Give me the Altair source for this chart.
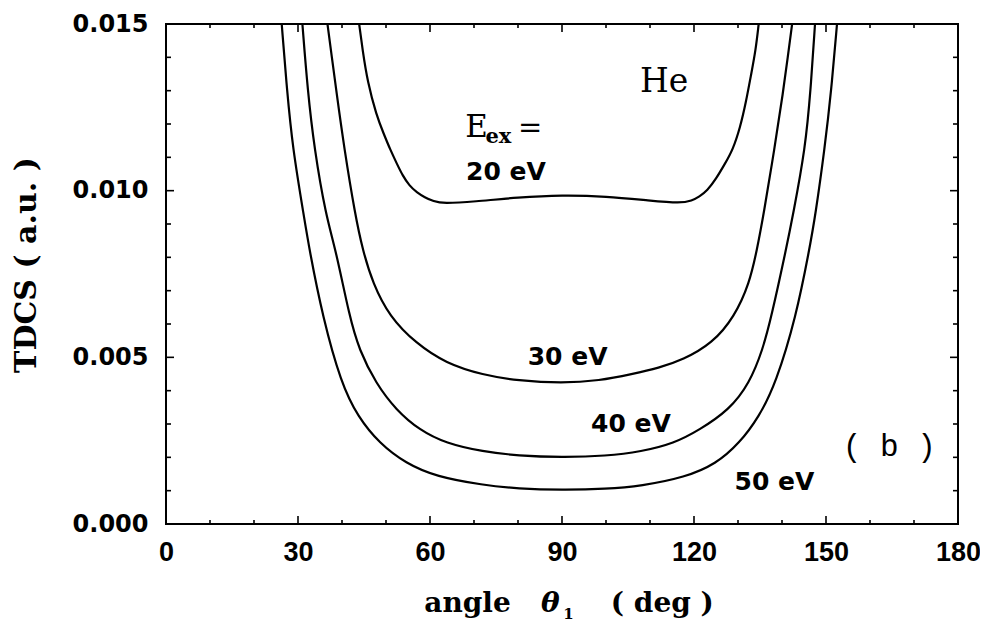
import altair as alt
import pandas as pd

# ---------------- data ----------------
theta_20 = [43.9, 44.7, 45.8, 47.8, 49.5, 51.0, 52.5, 53.8, 55.3, 57.0, 58.8, 60.8, 63.0,
            70, 80, 90, 100, 110, 117.0, 119.5, 121.2, 123.0, 125.0, 127.0, 128.8, 130.5,
            131.8, 133.0, 134.0, 134.7]
tdcs_20 = [0.0150, 0.0142, 0.01327, 0.01227, 0.0117, 0.01122, 0.0108, 0.01045, 0.01015, 0.00995,
           0.00980, 0.00968, 0.00961, 0.00967, 0.00980, 0.00987, 0.00983, 0.00970, 0.00962,
           0.00970, 0.00982, 0.0100, 0.01035, 0.0108, 0.01122, 0.0119, 0.01265, 0.0135, 0.0142, 0.0150]

theta_30 = [36.7, 37.7, 38.7, 40.5, 43.0, 44.7, 47.0, 50.8, 56.8, 63.6, 72.0, 80, 90,
            98.5, 106, 112, 117.4, 124.2, 129.2, 132.6, 134.3, 135.8, 138.3, 140.3, 141.3, 142.3]
tdcs_30 = [0.0150, 0.0140, 0.0130, 0.01127, 0.00927, 0.00822, 0.00722, 0.00622, 0.00542, 0.00482,
           0.00447, 0.00430, 0.00422, 0.00430, 0.00450, 0.00468, 0.00492, 0.00542, 0.00622,
           0.00722, 0.00822, 0.00927, 0.01127, 0.0130, 0.0140, 0.0150]

theta_40 = [31.0, 32.2, 33.7, 36.3, 38.6, 41.7, 43.9, 47.7, 52.3, 57.6, 63.6, 72.0, 80, 90,
            100, 108, 115.5, 121.2, 128.0, 132.6, 135.6, 137.6, 140.9, 142.5, 145.3, 146.5, 147.5]
tdcs_40 = [0.0150, 0.0130, 0.01127, 0.00927, 0.00822, 0.00622, 0.00522, 0.00422, 0.00342, 0.00282,
           0.00242, 0.00217, 0.00205, 0.00200, 0.00204, 0.00217, 0.00242, 0.00282, 0.00342,
           0.00422, 0.00522, 0.00622, 0.00822, 0.00927, 0.01127, 0.0130, 0.0150]

theta_50 = [26.3, 27.5, 28.8, 31.3, 32.6, 35.6, 39.8, 43.6, 48.5, 54.5, 61.4, 72.0, 80, 90,
            100, 108, 118, 125, 130.3, 134.8, 138.6, 143.2, 146.2, 147.6, 149.7, 151.2, 152.5]
tdcs_50 = [0.0150, 0.0130, 0.01127, 0.00927, 0.00822, 0.00622, 0.00422, 0.00322, 0.00242, 0.00182,
           0.00142, 0.00117, 0.00106, 0.00102, 0.00105, 0.00114, 0.00140, 0.00180, 0.00242,
           0.00322, 0.00422, 0.00622, 0.00822, 0.00927, 0.01127, 0.0130, 0.0150]

curve_names = ["20 eV", "30 eV", "40 eV", "50 eV"]

x_ticks_major = [0, 30, 60, 90, 120, 150, 180]
x_ticks_minor = [10, 20, 40, 50, 70, 80, 100, 110, 130, 140, 160, 170]
y_ticks_major = [0.0, 0.005, 0.010, 0.015]
y_ticks_minor = [0.001, 0.002, 0.003, 0.004, 0.006, 0.007, 0.008, 0.009,
                 0.011, 0.012, 0.013, 0.014]

# ---------------- layout ----------------
W, H = 792, 500
XMAX, YMAX = 180.0, 0.015
dx = XMAX / W   # data per pixel
dy = YMAX / H

rows = []
for name, xs_, ys_ in zip(curve_names, [theta_20, theta_30, theta_40, theta_50],
                          [tdcs_20, tdcs_30, tdcs_40, tdcs_50]):
    for i, (a, b) in enumerate(zip(xs_, ys_)):
        rows.append({"theta": a, "tdcs": b, "curve": name, "order": i})
df = pd.DataFrame(rows)

xs = alt.Scale(domain=[0, XMAX], nice=False, zero=False)
ys = alt.Scale(domain=[0, YMAX], nice=False, zero=False)

lines = alt.Chart(df).mark_line(color="black", strokeWidth=2.2, interpolate="basis").encode(
    x=alt.X("theta:Q", scale=xs,
            axis=alt.Axis(values=x_ticks_major, format="d", title=None, labelPadding=15,
                          labelFlush=False, labelFont="Liberation Sans", labelFontSize=27)),
    y=alt.Y("tdcs:Q", scale=ys,
            axis=alt.Axis(values=y_ticks_major, format=".3f", title=None, labelPadding=18,
                          labelFlush=False, labelFont="DejaVu Sans", labelFontSize=24)),
    detail="curve:N",
    order="order:Q",
)

# inward tick marks on all four sides
tick_rows = []
for v in x_ticks_major:
    tick_rows.append({"x": v, "x2": v, "y": 0, "y2": 8 * dy})
    tick_rows.append({"x": v, "x2": v, "y": YMAX, "y2": YMAX - 8 * dy})
for v in x_ticks_minor:
    tick_rows.append({"x": v, "x2": v, "y": 0, "y2": 4 * dy})
    tick_rows.append({"x": v, "x2": v, "y": YMAX, "y2": YMAX - 4 * dy})
for v in y_ticks_major:
    tick_rows.append({"x": 0, "x2": 8 * dx, "y": v, "y2": v})
    tick_rows.append({"x": XMAX, "x2": XMAX - 8 * dx, "y": v, "y2": v})
for v in y_ticks_minor:
    tick_rows.append({"x": 0, "x2": 5 * dx, "y": v, "y2": v})
    tick_rows.append({"x": XMAX, "x2": XMAX - 5 * dx, "y": v, "y2": v})
tdf = pd.DataFrame(tick_rows)
ticks = alt.Chart(tdf).mark_rule(color="black", strokeWidth=1.6).encode(
    x=alt.X("x:Q", scale=xs), x2="x2:Q", y=alt.Y("y:Q", scale=ys), y2="y2:Q")


def label(items, font, size, weight="normal", style="normal", align="left", angle=0):
    d = pd.DataFrame(items, columns=["x", "y", "t"])
    return alt.Chart(d).mark_text(font=font, fontSize=size, fontWeight=weight, fontStyle=style,
                                  align=align, baseline="alphabetic", color="black",
                                  angle=angle).encode(
        x=alt.X("x:Q", scale=xs), y=alt.Y("y:Q", scale=ys), text="t:N")


curve_labels = label([(68.2, 0.01032, "20 eV"), (82.2, 0.00477, "30 eV"),
                      (96.6, 0.00277, "40 eV"), (129.2, 0.00102, "50 eV")],
                     "DejaVu Sans", 25, weight="bold")
he = label([(113.2, 0.01296, "He")], "DejaVu Serif", 33, align="center")
e_main = label([(68.0, 0.01160, "E")], "DejaVu Serif", 31)
e_eq = label([(80.0, 0.01160, "=")], "DejaVu Serif", 29)
e_sub = label([(72.6, 0.01143, "ex")], "DejaVu Serif", 21, weight="bold")
panel = label([(153.8, 0.00204, "( b )")], "Liberation Mono", 31)

xt_main = label([(58.7, -0.00264, "angle"), (101.1, -0.00264, "( deg )")],
                "DejaVu Serif", 28, weight="bold")
xt_theta = label([(85.2, -0.00264, "θ")], "DejaVu Serif", 28, weight="bold", style="italic")
xt_sub = label([(90.3, -0.00285, "1")], "DejaVu Serif", 15, weight="bold")
yt = label([(-29.5, 0.00777, "TDCS ( a.u. )")], "DejaVu Serif", 30, weight="bold",
           align="center", angle=270)

chart = alt.layer(lines, ticks, curve_labels, he, e_main, e_eq, e_sub, panel,
                  xt_main, xt_theta, xt_sub, yt).properties(
    width=W, height=H,
    autosize=alt.AutoSizeParams(type="none"),
    padding={"left": 158, "top": 16, "right": 22, "bottom": 99},
).configure_view(stroke="black", strokeWidth=2).configure_axis(
    domain=False, ticks=False, grid=False,
    labelFontWeight="bold", labelColor="black",
)

chart.save("out.html", embed_options={"renderer": "svg", "actions": False})
